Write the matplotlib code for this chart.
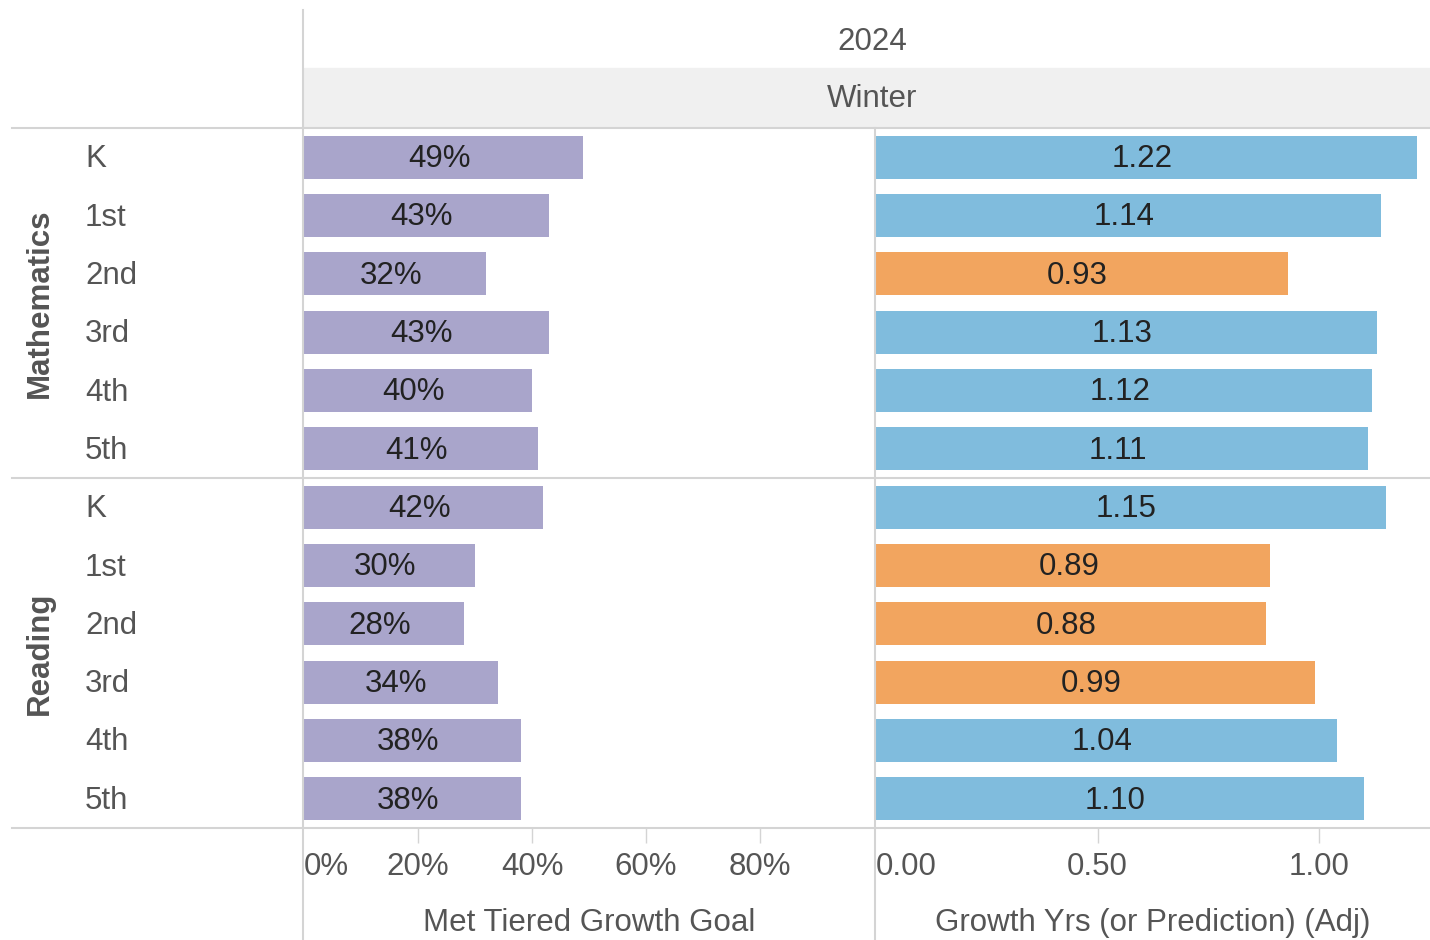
import matplotlib.pyplot as plt
from matplotlib.lines import Line2D
from matplotlib.patches import Rectangle

plt.rcParams['font.family'] = ['Liberation Sans', 'DejaVu Sans']

subjects = ["Mathematics", "Reading"]
grades = ["K", "1st", "2nd", "3rd", "4th", "5th"]
met_goal_math = [0.49, 0.43, 0.32, 0.43, 0.40, 0.41]
met_goal_reading = [0.42, 0.30, 0.28, 0.34, 0.38, 0.38]
growth_math = [1.22, 1.14, 0.93, 1.13, 1.12, 1.11]
growth_reading = [1.15, 0.89, 0.88, 0.99, 1.04, 1.10]
year = "2024"
season = "Winter"

met_goal = met_goal_math + met_goal_reading
growth = growth_math + growth_reading
rows = list(range(len(met_goal)))

W, H = 1430, 940
fig = plt.figure(figsize=(W / 100, H / 100), dpi=100)


def fx(x):
    return x / W


def fy(y):
    return 1 - y / H


PURPLE = "#a9a5cb"
BLUE = "#80bcdd"
ORANGE = "#f2a55f"
GRID = "#d4d4d4"
TXT = "#555555"
BAR_TXT = "#222222"
FS = 22.5

top, bottom = 128, 828
ax1 = fig.add_axes([fx(304), fy(bottom), fx(874) - fx(304), (bottom - top) / H])
ax2 = fig.add_axes([fx(876), fy(bottom), fx(1430) - fx(876), (bottom - top) / H])

# left panel: share of students meeting the growth goal
ax1.barh(rows, met_goal, height=0.74, color=PURPLE)
for r, v in zip(rows, met_goal):
    ax1.text(v / 2 - 0.008, r + 0.03, f"{v:.0%}", ha="center", va="center",
             fontsize=FS, color=BAR_TXT)
ax1.set_xlim(0, 1.0)
ax1.set_xticks([0, 0.2, 0.4, 0.6, 0.8])
ax1.set_xticklabels(["0%", "20%", "40%", "60%", "80%"])
ax1.set_xlabel("Met Tiered Growth Goal", fontsize=FS, color=TXT, labelpad=19)

# right panel: growth years, orange when below one year
colors = [ORANGE if v < 1.0 else BLUE for v in growth]
ax2.barh(rows, growth, height=0.74, color=colors)
for r, v in zip(rows, growth):
    ax2.text(v / 2 - 0.01, r + 0.03, f"{v:.2f}", ha="center", va="center",
             fontsize=FS, color=BAR_TXT)
ax2.set_xlim(0, 1.25)
ax2.set_xticks([0, 0.5, 1.0])
ax2.set_xticklabels(["0.00", "0.50", "1.00"])
ax2.set_xlabel("Growth Yrs (or Prediction) (Adj)", fontsize=FS, color=TXT, labelpad=19)

for ax in (ax1, ax2):
    ax.set_ylim(len(rows) - 0.5, -0.5)
    ax.set_yticks([])
    for s in ax.spines.values():
        s.set_visible(False)
    ax.tick_params(axis="x", length=11, width=1, color=GRID, labelsize=FS,
                   labelcolor=TXT, pad=6)
    ax.get_xticklabels()[0].set_horizontalalignment("left")
    ax.xaxis.get_major_ticks()[0].tick1line.set_visible(False)
    ax.patch.set_alpha(0)

# header
fig.patches.append(Rectangle((fx(304), fy(127)), fx(1430) - fx(304), (127 - 68) / H,
                             transform=fig.transFigure, color="#f0f0f0", zorder=0))
fig.text(fx(872), fy(42), year, ha="center", va="center", fontsize=FS, color=TXT)
fig.text(fx(872), fy(99), season, ha="center", va="center", fontsize=FS, color=TXT)

# row labels
step = (bottom - top) / len(rows)
for i, sub in enumerate(subjects):
    y0 = top + i * 6 * step
    fig.text(fx(40), fy(y0 + 3 * step), sub, rotation=90, ha="center", va="center",
             fontsize=FS, fontweight="bold", color=TXT)
    for j, g in enumerate(grades):
        fig.text(fx(85), fy(y0 + (j + 0.5) * step + 2), g, ha="left", va="center",
                 fontsize=FS, color=TXT)

# separators
for y in (top, top + 6 * step, bottom):
    fig.lines.append(Line2D([fx(12), 1], [fy(y), fy(y)], transform=fig.transFigure,
                            color=GRID, lw=1.5))
fig.lines.append(Line2D([fx(303), fx(303)], [fy(10), 0], transform=fig.transFigure,
                        color=GRID, lw=1.5))
fig.lines.append(Line2D([fx(875), fx(875)], [fy(top), 0], transform=fig.transFigure,
                        color=GRID, lw=1.5))

fig.savefig("out.png", dpi=100)
